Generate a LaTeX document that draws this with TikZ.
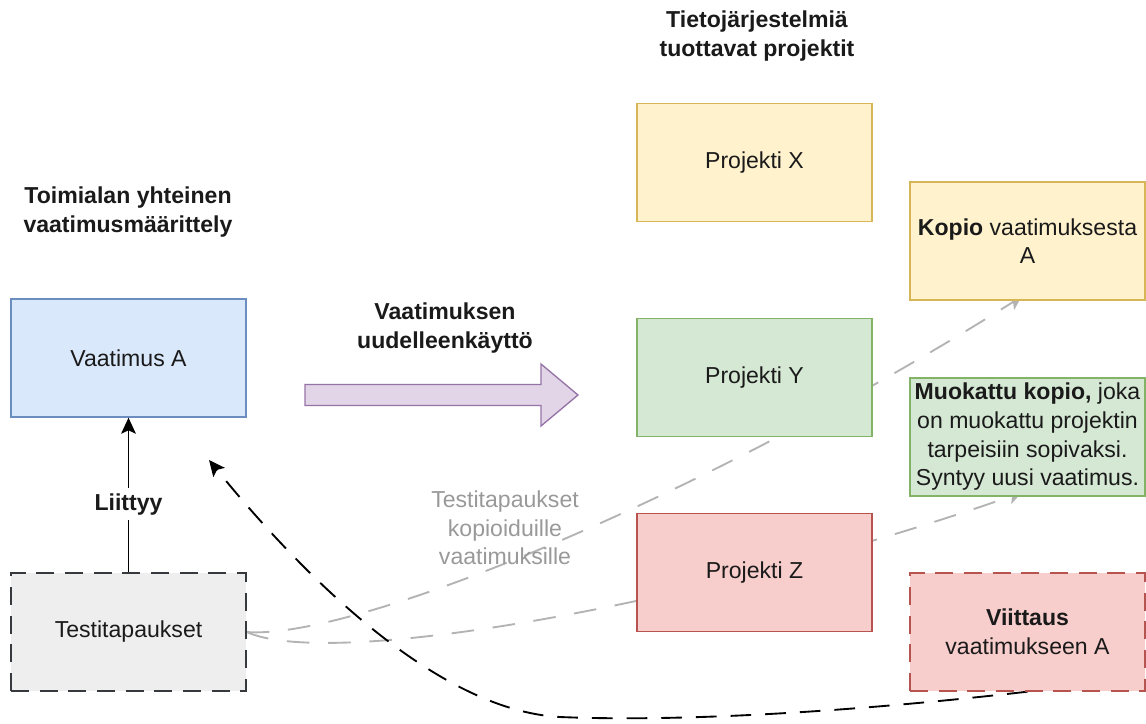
\documentclass[tikz,border=0pt]{standalone}
\usepackage{fontspec}
\setmainfont{Liberation Sans}
\usetikzlibrary{arrows.meta,calc}
\pgfdeclarelayer{background}
\pgfsetlayers{background,main}

\definecolor{txt}{HTML}{1A1A1A}
\definecolor{blueF}{HTML}{DAE8FC}\definecolor{blueD}{HTML}{6C8EBF}
\definecolor{grayF}{HTML}{EEEEEE}\definecolor{grayD}{HTML}{36393D}
\definecolor{yelF}{HTML}{FFF2CC}\definecolor{yelD}{HTML}{D6B656}
\definecolor{grnF}{HTML}{D5E8D4}\definecolor{grnD}{HTML}{82B366}
\definecolor{redF}{HTML}{F8CECC}\definecolor{redD}{HTML}{B85450}
\definecolor{purF}{HTML}{E1D5E7}\definecolor{purD}{HTML}{9673A6}
\definecolor{edgeGray}{HTML}{B3B3B3}
\definecolor{labelGray}{HTML}{999999}

\begin{document}
\begin{tikzpicture}[x=0.75pt,y=-0.75pt,
  font=\fontsize{17.3}{21.5}\selectfont, text=txt,
  box/.style={draw, line width=1pt, minimum width=176.25pt, minimum height=88.5pt,
    inner sep=0pt, align=center},
  dashbox/.style={box, dash pattern=on 13.5pt off 8pt},
  heading/.style={align=center, font=\fontsize{17.3}{21.5}\selectfont\bfseries},
  blackedge/.style={draw=black, line width=1.4pt,
    -{Stealth[length=12pt,width=11pt,inset=2.5pt]}},
  refedge/.style={blackedge, dash pattern=on 15.5pt off 10.5pt},
  grayedge/.style={draw=edgeGray, line width=1.4pt, dash pattern=on 17pt off 14pt,
    -{Stealth[length=10pt,width=11pt,inset=2.5pt]}}]

\useasboundingbox (0,0) rectangle (1146,724);

% left column: shared requirement and its test cases
\node[heading] (hdrL) at (128,212) {Toimialan yhteinen\\vaatimusmäärittely};
\node[box, fill=blueF, draw=blueD] (vaatA) at (128.5,358) {Vaatimus A};
\node[dashbox, fill=grayF, draw=grayD] (testi) at (128.5,632) {Testitapaukset};

% projects
\node[heading] (hdrR) at (757,36) {Tietojärjestelmiä\\tuottavat projektit};
\node[box, fill=yelF, draw=yelD] (projX) at (754.5,162.5) {Projekti X};
\node[box, fill=grnF, draw=grnD] (projY) at (754.5,377.5) {Projekti Y};
\node[box, fill=redF, draw=redD] (projZ) at (754.5,572.5) {Projekti Z};

% ways of reusing the requirement
\node[box, fill=yelF, draw=yelD] (kopio) at (1027.5,241)
  {\textbf{Kopio} vaatimuksesta\\A};
\node[box, fill=grnF, draw=grnD] (muok) at (1027.5,437)
  {\textbf{Muokattu kopio,} joka\\on muokattu projektin\\tarpeisiin sopivaksi.\\Syntyy uusi vaatimus.};
\node[dashbox, fill=redF, draw=redD] (viit) at (1027.5,632)
  {\textbf{Viittaus}\\vaatimukseen A};

% reuse arrow
\node[heading] (reuse) at (445,328) {Vaatimuksen\\uudelleenkäyttö};
\draw[draw=purD, fill=purF, line width=1pt, line join=miter]
  (305,384.5) -- (541,384.5) -- (541,364) -- (578,395) -- (541,426)
  -- (541,405.5) -- (305,405.5) -- cycle;

% test cases belong to the requirement
\draw[blackedge] (testi.north) -- node[pos=0.44, fill=white, inner sep=4pt,
  font=\fontsize{17.3}{21.5}\selectfont\bfseries] (liittyy) {Liittyy} (vaatA.south);

\node[align=center, text=labelGray] (tlabel) at (505,528)
  {Testitapaukset\\kopioiduille\\vaatimuksille};

\coordinate (vref) at (209,460);

\begin{pgfonlayer}{background}
  \draw[grayedge] (testi.east) .. controls (350,640) and (690,505) .. ($(kopio.south)+(-6,-4)$);
  \draw[grayedge] (testi.east) .. controls (330,670) and (700,605) .. ($(muok.south)+(-6,-4)$);
  \draw[refedge] (viit.south) .. controls (850,712) and (680,722) .. (560,717)
    .. controls (430,710) and (290,560) .. (vref);
\end{pgfonlayer}
\end{tikzpicture}
\end{document}
